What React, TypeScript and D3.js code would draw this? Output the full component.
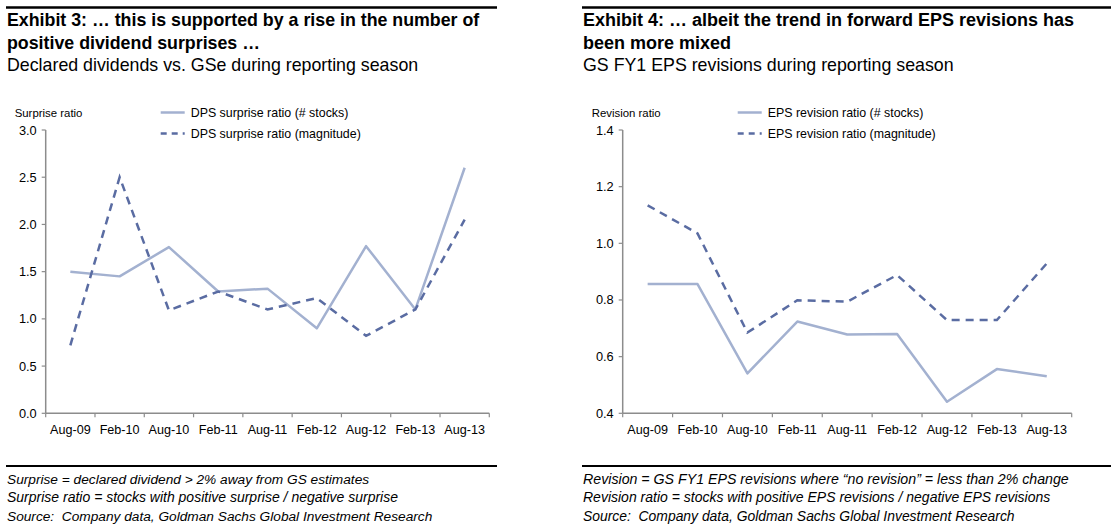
import React from "react";
import * as d3 from "d3";

const categories = ["Aug-09", "Feb-10", "Aug-10", "Feb-11", "Aug-11", "Feb-12", "Aug-12", "Feb-13", "Aug-13"];

const dpsStocks = [1.5, 1.45, 1.76, 1.29, 1.32, 0.9, 1.77, 1.1, 2.6];
const dpsMagnitude = [0.72, 2.5, 1.09, 1.29, 1.1, 1.22, 0.82, 1.1, 2.05];
const dpsTicks = [0, 0.5, 1.0, 1.5, 2.0, 2.5, 3.0];

const epsStocks = [0.856, 0.856, 0.541, 0.724, 0.678, 0.68, 0.441, 0.556, 0.531];
const epsMagnitude = [1.134, 1.035, 0.685, 0.799, 0.794, 0.888, 0.729, 0.729, 0.929];
const epsTicks = [0.4, 0.6, 0.8, 1.0, 1.2, 1.4];

const FONT = "'Liberation Sans', Arial, Helvetica, sans-serif";
const SOLID = "#A3B1D0";
const DASH = "#5A6CA2";
const AXIS = "#8C8C8C";

type PanelProps = {
  x0: number;
  ruleEnd: number;
  plotLeft: number;
  plotRight: number;
  titleSize: number;
  title1: string;
  title2: string;
  subtitle: string;
  axisLabel: string;
  legend1: string;
  legend2: string;
  solid: number[];
  dashed: number[];
  ticks: number[];
  domain: [number, number];
  notes: string[];
  noteSizes: number[];
};

function Panel(p: PanelProps) {
  const top = 130;
  const bottom = 413.3;
  const y = d3.scaleLinear().domain(p.domain).range([bottom, top]);
  const xb = d3.scaleBand().domain(categories).range([p.plotLeft, p.plotRight]);
  const cx = (c: string) => (xb(c) as number) + xb.bandwidth() / 2;
  const line = d3
    .line<number>()
    .x((_, i) => cx(categories[i]))
    .y((v) => y(v));
  const legX = p.plotLeft + 115;
  return (
    <g fontFamily={FONT}>
      <line x1={p.x0 - 1} x2={p.ruleEnd} y1={7.5} y2={7.5} stroke="#000" strokeWidth={2.5} />
      <text x={p.x0} y={26} fontSize={p.titleSize} fontWeight="bold" fill="#000">{p.title1}</text>
      <text x={p.x0} y={49} fontSize={p.titleSize} fontWeight="bold" fill="#000">{p.title2}</text>
      <text x={p.x0} y={71} fontSize={17.8} fill="#000">{p.subtitle}</text>

      <text x={p.plotLeft - 31} y={116.5} fontSize={11.4} fill="#000">{p.axisLabel}</text>

      <line x1={legX} x2={legX + 24} y1={112.5} y2={112.5} stroke={SOLID} strokeWidth={2.5} />
      <text x={legX + 30} y={116.8} fontSize={12.4} fill="#000">{p.legend1}</text>
      <line x1={legX} x2={legX + 24} y1={133.5} y2={133.5} stroke={DASH} strokeWidth={2.5} strokeDasharray="6,5" />
      <text x={legX + 30} y={137.8} fontSize={12.4} fill="#000">{p.legend2}</text>

      {/* y axis */}
      <line x1={p.plotLeft} x2={p.plotLeft} y1={top} y2={bottom} stroke={AXIS} strokeWidth={1.5} />
      {p.ticks.map((t) => (
        <g key={t}>
          <line x1={p.plotLeft - 4} x2={p.plotLeft} y1={y(t)} y2={y(t)} stroke={AXIS} strokeWidth={1.2} />
          <text x={p.plotLeft - 9} y={y(t) + 4.5} fontSize={12.8} textAnchor="end" fill="#000">
            {t.toFixed(1)}
          </text>
        </g>
      ))}
      {/* x axis */}
      <line x1={p.plotLeft} x2={p.plotRight} y1={bottom} y2={bottom} stroke={AXIS} strokeWidth={1.5} />
      {categories.map((c) => (
        <line key={"t" + c} x1={xb(c) as number} x2={xb(c) as number} y1={bottom} y2={bottom + 4} stroke={AXIS} strokeWidth={1.2} />
      ))}
      <line x1={p.plotRight} x2={p.plotRight} y1={bottom} y2={bottom + 4} stroke={AXIS} strokeWidth={1.2} />
      {categories.map((c) => (
        <text key={"l" + c} x={cx(c)} y={433.5} fontSize={12.6} textAnchor="middle" fill="#000">
          {c}
        </text>
      ))}

      <path d={line(p.solid) || ""} fill="none" stroke={SOLID} strokeWidth={2.5} strokeLinejoin="round" />
      <path d={line(p.dashed) || ""} fill="none" stroke={DASH} strokeWidth={2.5} strokeDasharray="8,6" />

      <line x1={p.x0 - 1} x2={p.ruleEnd} y1={466} y2={466} stroke="#000" strokeWidth={2} />
      {p.notes.map((n, i) => (
        <text key={n} x={p.x0} y={484 + i * 18.3} fontSize={p.noteSizes[i]} fontStyle="italic" fill="#000" xmlSpace="preserve">
          {n}
        </text>
      ))}
    </g>
  );
}

export default function App() {
  return (
    <svg width={1111} height={529} style={{ position: "absolute", left: 0, top: 0, background: "#fff" }}>
      <rect width={1111} height={529} fill="#fff" />
      <Panel
        x0={7}
        ruleEnd={497}
        plotLeft={45.7}
        plotRight={489.3}
        titleSize={17.8}
        title1="Exhibit 3: … this is supported by a rise in the number of"
        title2="positive dividend surprises …"
        subtitle="Declared dividends vs. GSe during reporting season"
        axisLabel="Surprise ratio"
        legend1="DPS surprise ratio (# stocks)"
        legend2="DPS surprise ratio (magnitude)"
        solid={dpsStocks}
        dashed={dpsMagnitude}
        ticks={dpsTicks}
        domain={[0, 3]}
        notes={[
          "Surprise = declared dividend > 2% away from GS estimates",
          "Surprise ratio = stocks with positive surprise / negative surprise",
          "Source:  Company data, Goldman Sachs Global Investment Research",
        ]}
        noteSizes={[13.7, 14, 13.7]}
      />
      <Panel
        x0={583}
        ruleEnd={1111}
        plotLeft={622.7}
        plotRight={1071.7}
        titleSize={18}
        title1="Exhibit 4: … albeit the trend in forward EPS revisions has"
        title2="been more mixed"
        subtitle="GS FY1 EPS revisions during reporting season"
        axisLabel="Revision ratio"
        legend1="EPS revision ratio (# stocks)"
        legend2="EPS revision ratio (magnitude)"
        solid={epsStocks}
        dashed={epsMagnitude}
        ticks={epsTicks}
        domain={[0.4, 1.4]}
        notes={[
          "Revision = GS FY1 EPS revisions where “no revision” = less than 2% change",
          "Revision ratio = stocks with positive EPS revisions / negative EPS revisions",
          "Source:  Company data, Goldman Sachs Global Investment Research",
        ]}
        noteSizes={[14.2, 14, 13.9]}
      />
    </svg>
  );
}
